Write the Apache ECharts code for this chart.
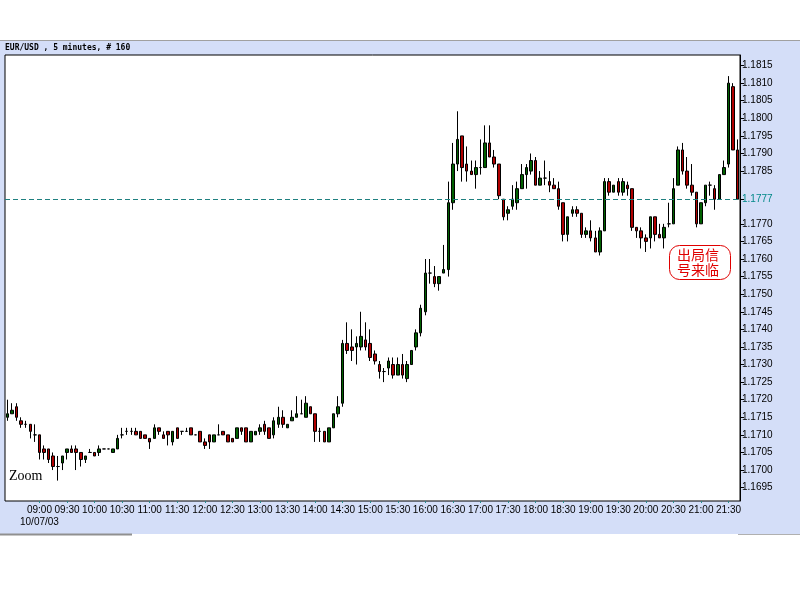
<!DOCTYPE html>
<html>
<head>
<meta charset="utf-8">
<script src="https://cdn.jsdelivr.net/npm/echarts@6/dist/echarts.min.js"></script>
<style>html,body{margin:0;padding:0;background:#fff}#c{width:800px;height:600px}</style>
</head>
<body>
<div id="c"></div>
<script>
// ---- data (EUR/USD 5-minute bars, 10/07/03) ----
const startTime = '08:25';
const barCount = 160;
const open = [
1.1715,1.1716,1.1718,1.1714,1.1713,1.1713,1.1710,1.1710,1.1706,1.1706,
1.1704,1.1701,1.1702,1.1705,1.1706,1.1706,1.1705,1.1703,1.1705,1.1705,
1.1705,1.1706,1.1706,1.1705,1.1706,1.1710,1.1711,1.1711,1.1711,1.1711,
1.1710,1.1709,1.1709,1.1712,1.1710,1.1711,1.1708,1.1712,1.1711,1.1711,
1.1712,1.1710,1.1711,1.1708,1.1710,1.1708,1.1710,1.1711,1.1710,1.1709,
1.1709,1.1712,1.1712,1.1708,1.1710,1.1711,1.1713,1.1712,1.1710,1.1713,
1.1715,1.1712,1.1714,1.1715,1.1716,1.1715,1.1718,1.1716,1.1711,1.1711,
1.1708,1.1712,1.1716,1.1719,1.1736,1.1735,1.1735,1.1735,1.1737,1.1736,
1.1733,1.1730,1.1728,1.1729,1.1730,1.1727,1.1730,1.1726,1.1730,1.1735,
1.1739,1.1745,1.1756,1.1755,1.1753,1.1756,1.1757,1.1776,1.1787,1.1795,
1.1787,1.1785,1.1784,1.1786,1.1786,1.1793,1.1789,1.1787,1.1777,1.1773,
1.1775,1.1776,1.1780,1.1784,1.1785,1.1788,1.1781,1.1783,1.1782,1.1781,
1.1780,1.1776,1.1767,1.1773,1.1774,1.1773,1.1767,1.1768,1.1766,1.1762,
1.1768,1.1782,1.1779,1.1782,1.1779,1.1781,1.1780,1.1769,1.1768,1.1766,
1.1766,1.1772,1.1767,1.1766,1.1770,1.1770,1.1781,1.1791,1.1785,1.1781,
1.1779,1.1770,1.1776,1.1781,1.1780,1.1777,1.1784,1.1787,1.1809,1.1791];
const close = [
1.1716,1.1717,1.1715,1.1713,1.1713,1.1711,1.1710,1.1705,1.1705,1.1703,
1.1701,1.1701,1.1704,1.1706,1.1705,1.1705,1.1703,1.1704,1.1705,1.1704,
1.1706,1.1706,1.1706,1.1706,1.1709,1.1710,1.1711,1.1711,1.1710,1.1709,
1.1709,1.1708,1.1712,1.1711,1.1709,1.1710,1.1711,1.1709,1.1711,1.1711,
1.1710,1.1710,1.1708,1.1707,1.1708,1.1710,1.1710,1.1710,1.1708,1.1708,
1.1712,1.1711,1.1708,1.1711,1.1711,1.1712,1.1711,1.1709,1.1714,1.1715,
1.1713,1.1713,1.1715,1.1716,1.1716,1.1719,1.1716,1.1711,1.1711,1.1708,
1.1712,1.1716,1.1718,1.1736,1.1734,1.1734,1.1736,1.1738,1.1735,1.1732,
1.1731,1.1728,1.1728,1.1731,1.1727,1.1730,1.1727,1.1730,1.1734,1.1739,
1.1746,1.1756,1.1756,1.1753,1.1755,1.1757,1.1776,1.1787,1.1794,1.1786,
1.1785,1.1784,1.1786,1.1786,1.1793,1.1789,1.1787,1.1778,1.1772,1.1774,
1.1777,1.1780,1.1784,1.1786,1.1788,1.1781,1.1783,1.1783,1.1781,1.1780,
1.1775,1.1767,1.1772,1.1774,1.1773,1.1767,1.1768,1.1766,1.1762,1.1768,
1.1782,1.1779,1.1781,1.1779,1.1782,1.1780,1.1769,1.1768,1.1766,1.1765,
1.1772,1.1767,1.1766,1.1769,1.1770,1.1780,1.1791,1.1785,1.1781,1.1779,
1.1770,1.1776,1.1781,1.1781,1.1777,1.1784,1.1786,1.1810,1.1791,1.1777];
const low = [
1.1714,1.1716,1.1714,1.1712,1.1712,1.1709,1.1708,1.1703,1.1703,1.1702,
1.1700,1.1697,1.1700,1.1703,1.1705,1.1700,1.1701,1.1702,1.1705,1.1704,
1.1704,1.1706,1.1706,1.1705,1.1706,1.1709,1.1710,1.1710,1.1710,1.1709,
1.1709,1.1706,1.1709,1.1710,1.1709,1.1707,1.1707,1.1709,1.1710,1.1711,
1.1710,1.1710,1.1708,1.1706,1.1706,1.1708,1.1710,1.1710,1.1708,1.1708,
1.1709,1.1710,1.1708,1.1708,1.1710,1.1710,1.1710,1.1709,1.1709,1.1712,
1.1712,1.1712,1.1714,1.1715,1.1716,1.1715,1.1716,1.1708,1.1708,1.1708,
1.1708,1.1712,1.1715,1.1718,1.1733,1.1731,1.1730,1.1734,1.1734,1.1731,
1.1730,1.1726,1.1725,1.1727,1.1726,1.1727,1.1726,1.1725,1.1730,1.1734,
1.1738,1.1744,1.1753,1.1752,1.1751,1.1756,1.1755,1.1774,1.1785,1.1782,
1.1782,1.1784,1.1780,1.1784,1.1786,1.1789,1.1786,1.1777,1.1771,1.1771,
1.1774,1.1774,1.1780,1.1780,1.1784,1.1781,1.1781,1.1781,1.1779,1.1780,
1.1774,1.1765,1.1765,1.1772,1.1772,1.1766,1.1766,1.1765,1.1762,1.1761,
1.1768,1.1778,1.1779,1.1778,1.1778,1.1778,1.1768,1.1766,1.1763,1.1762,
1.1763,1.1765,1.1766,1.1763,1.1769,1.1770,1.1781,1.1784,1.1780,1.1778,
1.1769,1.1770,1.1775,1.1778,1.1774,1.1777,1.1784,1.1786,1.1791,1.1777];
const high = [
1.1720,1.1719,1.1719,1.1715,1.1714,1.1713,1.1713,1.1710,1.1707,1.1706,
1.1705,1.1704,1.1704,1.1706,1.1707,1.1707,1.1705,1.1704,1.1706,1.1705,
1.1707,1.1706,1.1706,1.1706,1.1710,1.1712,1.1712,1.1712,1.1712,1.1711,
1.1710,1.1709,1.1713,1.1712,1.1711,1.1711,1.1711,1.1712,1.1711,1.1712,
1.1712,1.1710,1.1711,1.1709,1.1710,1.1710,1.1713,1.1711,1.1710,1.1709,
1.1712,1.1712,1.1712,1.1711,1.1711,1.1713,1.1714,1.1712,1.1715,1.1718,
1.1717,1.1713,1.1717,1.1721,1.1720,1.1721,1.1718,1.1716,1.1712,1.1711,
1.1712,1.1716,1.1721,1.1737,1.1742,1.1740,1.1738,1.1745,1.1742,1.1740,
1.1734,1.1731,1.1729,1.1732,1.1732,1.1732,1.1733,1.1731,1.1734,1.1740,
1.1747,1.1760,1.1760,1.1758,1.1755,1.1764,1.1782,1.1793,1.1802,1.1795,
1.1792,1.1788,1.1788,1.1794,1.1798,1.1798,1.1791,1.1787,1.1777,1.1775,
1.1781,1.1782,1.1787,1.1787,1.1790,1.1789,1.1785,1.1788,1.1785,1.1783,
1.1782,1.1776,1.1772,1.1775,1.1775,1.1773,1.1769,1.1771,1.1768,1.1769,
1.1783,1.1783,1.1781,1.1783,1.1783,1.1782,1.1780,1.1769,1.1769,1.1767,
1.1772,1.1772,1.1770,1.1770,1.1776,1.1783,1.1792,1.1793,1.1789,1.1787,
1.1779,1.1776,1.1781,1.1782,1.1781,1.1784,1.1788,1.1812,1.1810,1.1794];
const lastPrice = 1.1777;
const yTickValues = [1.1695,1.1700,1.1705,1.1710,1.1715,1.1720,1.1725,1.1730,1.1735,1.1740,
  1.1745,1.1750,1.1755,1.1760,1.1765,1.1770,1.1777,1.1785,1.1790,1.1795,1.1800,1.1805,1.1810,1.1815];
const dateLabel = '10/07/03';
const titleText = 'EUR/USD , 5 minutes, # 160';
const stampText = '出局信\n号来临';

// ---- build categories (bar times) ----
const categories = [];
{
  let [h, m] = startTime.split(':').map(Number);
  let t = h * 60 + m;
  for (let i = 0; i < barCount; i++) {
    const hh = Math.floor(t / 60), mm = t % 60;
    categories.push(String(hh).padStart(2, '0') + ':' + String(mm).padStart(2, '0'));
    t += 5;
  }
}
const candles = open.map((o, i) => [o, close[i], low[i], high[i]]);
const showLabel = (i) => categories[i].endsWith(':00') || categories[i].endsWith(':30');

const chart = echarts.init(document.getElementById('c'), null, {renderer: 'canvas'});
const font = 'Liberation Sans';
chart.setOption({
  animation: false,
  backgroundColor: '#ffffff',
  grid: {left: 5, right: 60, top: 55, bottom: 99, show: true, backgroundColor: '#ffffff', borderColor: '#000', borderWidth: 1},
  xAxis: {
    type: 'category', data: categories, boundaryGap: true,
    axisLine: {show: false},
    axisTick: {show: true, alignWithLabel: true, length: 2, interval: (i) => showLabel(i), lineStyle: {color: '#2a8a8a'}},
    axisLabel: {
      interval: (i) => showLabel(i), fontSize: 10, fontFamily: font, color: '#000', margin: 3, lineHeight: 12,
      formatter: (v, i) => (v === '09:00' ? v + '\n' + dateLabel : v)
    },
    splitLine: {show: false}
  },
  yAxis: {
    type: 'value', position: 'right', min: 1.16912, max: 1.1818, scale: true,
    axisLine: {show: true, lineStyle: {color: '#000'}},
    axisTick: {show: true, length: 4, customValues: yTickValues, lineStyle: {color: '#000'}},
    axisLabel: {
      customValues: yTickValues, fontSize: 10, fontFamily: font, margin: 2,
      formatter: (v) => v.toFixed(4),
      color: (v) => (Math.abs(v - lastPrice) < 1e-6 ? '#008888' : '#000')
    },
    splitLine: {show: false}
  },
  series: [{
    type: 'candlestick', data: candles, barWidth: 3,
    itemStyle: {color: '#006000', color0: '#b00000', borderColor: '#000', borderColor0: '#000', borderColorDoji: '#000', borderWidth: 1},
    markLine: {
      silent: true, symbol: 'none', precision: 4,
      lineStyle: {color: '#1f8080', type: [5, 3], width: 1},
      label: {show: false},
      data: [{yAxis: lastPrice}]
    }
  }],
  graphic: [
    {type: 'rect', z: -10, shape: {x: 0, y: 41, width: 800, height: 493}, style: {fill: '#d4def8'}},
    {type: 'line', z: -5, shape: {x1: 0, y1: 40.5, x2: 800, y2: 40.5}, style: {stroke: '#a0a0a0', lineWidth: 1}},
    {type: 'line', z: -5, shape: {x1: 0, y1: 534.5, x2: 132, y2: 534.5}, style: {stroke: '#909090', lineWidth: 2}},
    {type: 'line', z: -5, shape: {x1: 738, y1: 534.5, x2: 800, y2: 534.5}, style: {stroke: '#b0b0b0', lineWidth: 1}},
    {type: 'text', left: 5, top: 44, style: {text: titleText, font: 'bold 8px "DejaVu Sans Mono"', fill: '#000'}},
    {type: 'text', left: 9, top: 469, style: {text: 'Zoom', font: '14px "Liberation Serif"', fill: '#000'}},
    {type: 'rect', shape: {x: 669.5, y: 245.5, width: 61, height: 34, r: 10}, style: {fill: 'rgba(0,0,0,0)', stroke: '#e00000', lineWidth: 1}},
    {type: 'text', left: 677, top: 247, style: {text: stampText, font: '14px "Noto Sans CJK SC"', lineHeight: 15, fill: '#e00000'}}
  ]
});
</script>
</body>
</html>
